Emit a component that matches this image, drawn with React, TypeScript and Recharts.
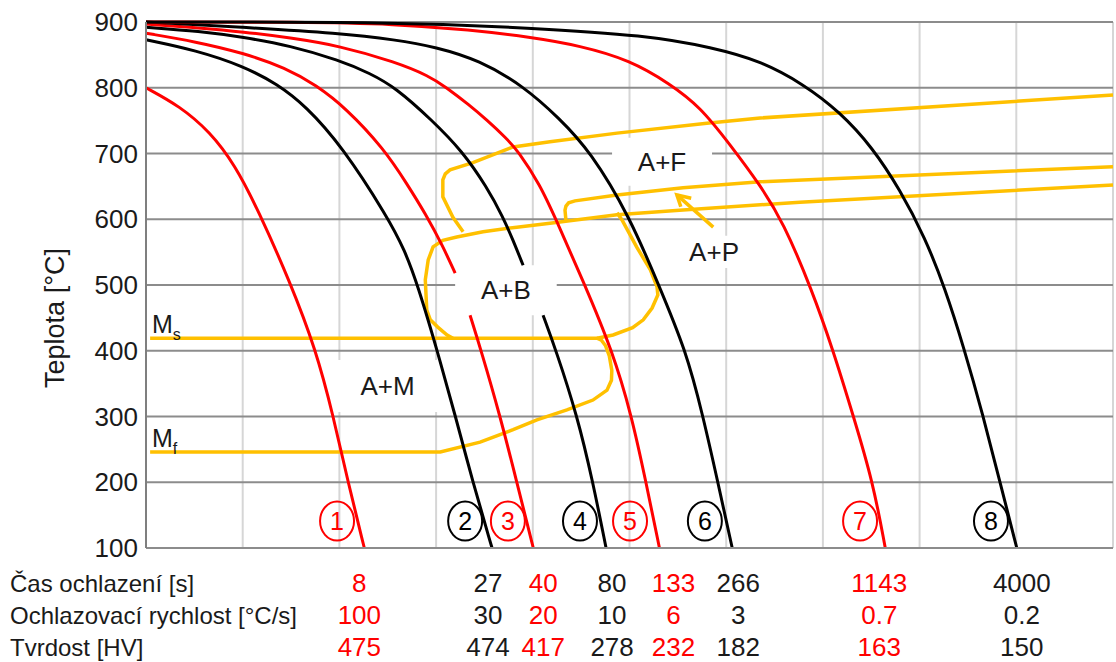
import React from 'react';
import {
  LineChart,
  Line,
  XAxis,
  YAxis,
  CartesianGrid,
  ReferenceArea,
  ReferenceDot
} from 'recharts';

type Pt = [number, number | null];

// cooling curves, [time s, temperature °C]; null = gap behind the A+B label
const curve1: Pt[] = [[1, 800], [1.38, 772], [1.84, 733], [2.33, 683], [2.91, 614], [3.94, 505], [5.05, 401], [5.94, 302], [6.85, 200], [8, 100]];
const curve2: Pt[] = [[1, 873], [1.61, 857], [2.52, 833], [3.48, 806], [4.59, 772], [6.47, 711], [10.0, 603], [11.75, 553], [13.3, 500], [16.0, 401], [19.0, 302], [22.5, 200], [27, 100]];
const curve3: Pt[] = [[1, 883], [1.61, 870], [2.52, 853], [3.8, 830], [5.05, 804], [6.72, 769], [9.65, 707], [12.0, 654], [14.4, 607], [16.9, 559], [19.0, 518], [20.4, null], [21.9, 454], [24.3, 401], [29.1, 302], [34.2, 200], [40, 100]];
const curve4: Pt[] = [[1, 892], [1.67, 886], [2.52, 877], [3.94, 864], [6.29, 842], [8.45, 822], [10.8, 800], [15.2, 751], [20.3, 704], [25.7, 649], [30.0, 603], [33.0, 568], [36.3, 530], [40, null], [43.9, 454], [49.6, 401], [60.7, 302], [70.6, 200], [80, 100]];
const curve5: Pt[] = [[1, 897], [1.67, 891], [2.52, 885], [3.94, 876], [6.29, 864], [10.8, 839], [14.8, 818], [17.4, 801], [21.7, 774], [25.7, 751], [30.8, 724], [34.6, 704], [42.7, 652], [49.2, 603], [65.4, 500], [84.7, 401], [102, 302], [117, 200], [133, 100]];
const curve6: Pt[] = [[1, 900], [2.52, 892], [6.29, 883], [10.8, 873], [15.8, 862], [23.9, 842], [36.3, 803], [51.1, 754], [68.7, 704], [100.5, 603], [132, 500], [171, 401], [201, 302], [232, 200], [266, 100]];
const curve7: Pt[] = [[1, 900], [4.34, 900], [10.8, 897], [21.9, 888], [38.8, 877], [62.4, 864], [100.5, 842], [147, 806], [196, 771], [260, 714], [347, 652], [432, 596], [569, 492], [695, 401], [841, 302], [1017, 200], [1143, 100]];
const curve8: Pt[] = [[1, 900], [10.8, 900], [38.8, 891], [117, 880], [222, 861], [347, 841], [522, 806], [743, 763], [1007, 710], [1315, 645], [1669, 572], [2019, 495], [2419, 404], [2899, 302], [3409, 200], [4000, 100]];

// phase boundaries (yellow)
const msMfLine: Pt[] = [[1.04, 419], [73.4, 419], [76.5, 416], [79.5, 408], [82.5, 392], [84.5, 370], [84.2, 355], [80.7, 340], [70.6, 325], [55.1, 310], [41.4, 295], [33.0, 280], [24.1, 261], [16.5, 246], [1.04, 246]];
const ferriteLine: Pt[] = [[10000, 789], [347, 754], [209, 746], [88.8, 731], [46.9, 718], [33.0, 710], [22.5, 686], [18.1, 675], [17.3, 669], [16.9, 660], [16.9, 634], [18.6, 603], [20.5, 581]];
const pearliteLine: Pt[] = [[10000, 680], [347, 657], [166.5, 648], [88.8, 637], [59.5, 628], [56, 625], [54.6, 620], [54.1, 614], [54.6, 598]];
const bainiteLine: Pt[] = [[10000, 652], [507, 626], [166.5, 614], [88.8, 607], [46.9, 594], [34.2, 588], [24.8, 581], [19.3, 573], [16.9, 568], [15.4, 558], [14.7, 538], [14.3, 508], [14.5, 462], [15.0, 447], [16.1, 436], [17.6, 424], [18.6, 419]];
const noseLine: Pt[] = [[88.8, 610], [93.1, 599], [107, 558], [122, 523], [130, 497], [131, 485], [124, 465], [114, 447], [103, 435], [85.5, 424], [73.4, 419]];
const arrowShaft: Pt[] = [[222, 588], [157, 637]];
const arrowHead: Pt[] = [[180, 632], [157, 637], [163, 619]];

// table under the chart
const coolingTimes = [8, 27, 40, 80, 133, 266, 1143, 4000];
const coolingRates = ['100', '30', '20', '10', '6', '3', '0.7', '0.2'];
const hardness = [475, 474, 417, 278, 232, 182, 163, 150];
const rowNames = ['Čas ochlazení [s]', 'Ochlazovací rychlost [°C/s]', 'Tvrdost [HV]'];

const tempTicks = [100, 200, 300, 400, 500, 600, 700, 800, 900];

// annotations
const tagTimes = [6.17, 20.9, 31.4, 62.4, 100.5, 205, 899, 3128];
const tagTemp = 141;
const phaseBoxes = [
  { text: 'A+M', t1: 6.05, t2: 16.45, T1: 386, T2: 307 },
  { text: 'A+B', t1: 19.0, t2: 50, T1: 530, T2: 454 },
  { text: 'A+F', t1: 84.7, t2: 219.5, T1: 724, T2: 651 },
  { text: 'A+P', t1: 168, t2: 298, T1: 575, T2: 526 }
];

const RED = '#ff0000';
const YELLOW = '#ffc000';
const curveColors = [RED, '#000', RED, '#000', RED, '#000', RED, '#000'];
const columnShift = [-5, -4, 10, 6, 14, 6, -6, 5];

const toRows = (pts: Pt[]) => pts.map(([t, T]) => ({ t, T }));

const TableTick = (props: any) => {
  const { x, y, payload } = props;
  const i = coolingTimes.indexOf(payload.value);
  if (i < 0) return null;
  const cx = x + columnShift[i];
  const color = curveColors[i] === RED ? RED : '#1a1a1a';
  return (
    <g fontSize={26} fill={color} textAnchor="middle">
      <text x={cx} y={y + 36} fill={color}>{coolingTimes[i]}</text>
      <text x={cx} y={y + 68} fill={color}>{coolingRates[i]}</text>
      <text x={cx} y={y + 100} fill={color}>{hardness[i]}</text>
    </g>
  );
};

const renderRowNames = (props: any) => {
  const vb = props.viewBox || { y: 548 };
  return (
    <g fontSize={24} fill="#1a1a1a">
      {rowNames.map((name, i) => (
        <text key={name} x={10} y={vb.y + 44 + i * 32} fill="#1a1a1a">{name}</text>
      ))}
    </g>
  );
};

const renderYTitle = (props: any) => {
  const vb = props.viewBox || { x: 0, y: 22, width: 146, height: 526 };
  const cx = vb.x + 55;
  const cy = vb.y + vb.height / 2 + 33;
  return (
    <text
      x={cx}
      y={cy}
      transform={`rotate(-90, ${cx}, ${cy})`}
      textAnchor="middle"
      dominantBaseline="central"
      fontSize={27}
      fill="#1a1a1a"
    >
      Teplota [°C]
    </text>
  );
};

const yellowLines = [msMfLine, ferriteLine, pearliteLine, bainiteLine, noseLine, arrowShaft, arrowHead];

export default function App() {
  return (
    <div
      style={{
        position: 'absolute',
        left: 0,
        top: 0,
        width: 1116,
        height: 662,
        background: '#fff',
        fontFamily: '"Liberation Sans", Arial, sans-serif'
      }}
    >
      <LineChart width={1116} height={662} margin={{ top: 22, right: 3, bottom: 0, left: 0 }}>
        <CartesianGrid
          horizontal={false}
          stroke="#d6d6d6"
          strokeWidth={2}
          verticalCoordinatesGenerator={({ offset }: any) =>
            Array.from({ length: 11 }, (_, i) => offset.left + (i * offset.width) / 10)
          }
        />
        <CartesianGrid vertical={false} stroke="#8c8c8c" strokeWidth={2} />
        <XAxis
          type="number"
          dataKey="t"
          scale="log"
          domain={[1, 10000]}
          ticks={coolingTimes}
          interval={0}
          height={114}
          tick={<TableTick />}
          tickLine={false}
          axisLine={{ stroke: '#8c8c8c', strokeWidth: 2 }}
          label={renderRowNames}
        />
        <YAxis
          type="number"
          domain={[100, 900]}
          ticks={tempTicks}
          interval={0}
          width={146}
          tick={{ fontSize: 26, fill: '#1a1a1a' }}
          tickLine={false}
          axisLine={{ stroke: '#7f7f7f', strokeWidth: 2 }}
          label={renderYTitle}
        />
        {phaseBoxes.map((b) => (
          <ReferenceArea
            key={b.text}
            x1={b.t1}
            x2={b.t2}
            y1={b.T1}
            y2={b.T2}
            fill="#fff"
            fillOpacity={1}
            stroke="none"
            label={{ value: b.text, position: 'center', fontSize: 26, fill: '#1a1a1a' }}
          />
        ))}
        {yellowLines.map((pts, i) => (
          <Line
            key={`y${i}`}
            data={toRows(pts)}
            dataKey="T"
            type="linear"
            stroke={YELLOW}
            strokeWidth={3.5}
            dot={false}
            activeDot={false}
            isAnimationActive={false}
          />
        ))}
        {[curve1, curve2, curve3, curve4, curve5, curve6, curve7, curve8].map((pts, i) => (
          <Line
            key={`c${i}`}
            data={toRows(pts)}
            dataKey="T"
            type="basis"
            stroke={curveColors[i]}
            strokeWidth={3}
            dot={false}
            activeDot={false}
            connectNulls={false}
            isAnimationActive={false}
          />
        ))}
        {tagTimes.map((t, i) => (
          <ReferenceDot
            key={`tag${i}`}
            x={t}
            y={tagTemp}
            r={1}
            shape={(p: any) => (
              <g>
                <ellipse cx={p.cx} cy={p.cy} rx={17} ry={19.5} fill="none" stroke={curveColors[i]} strokeWidth={2} />
                <text x={p.cx} y={p.cy + 9} textAnchor="middle" fontSize={25} fill={curveColors[i]}>
                  {i + 1}
                </text>
              </g>
            )}
          />
        ))}
        <ReferenceDot
          x={1.059}
          y={427}
          r={1}
          shape={(p: any) => (
            <text x={p.cx} y={p.cy} fontSize={25} fill="#1a1a1a">
              M<tspan fontSize={16} dy={7}>s</tspan>
            </text>
          )}
        />
        <ReferenceDot
          x={1.059}
          y={254}
          r={1}
          shape={(p: any) => (
            <text x={p.cx} y={p.cy} fontSize={25} fill="#1a1a1a">
              M<tspan fontSize={16} dy={7}>f</tspan>
            </text>
          )}
        />
      </LineChart>
    </div>
  );
}
